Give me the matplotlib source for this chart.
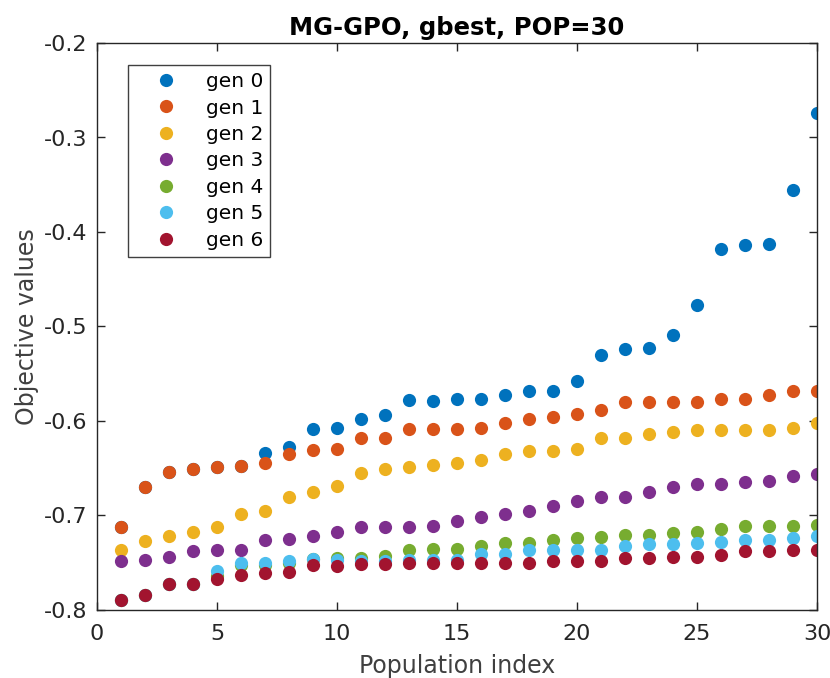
import numpy as np
import matplotlib
matplotlib.use("Agg")
import matplotlib.pyplot as plt

plt.rcParams['font.family'] = ['DejaVu Sans']

x = list(range(1, 31))

gen0 = [-0.712, -0.670, -0.654, -0.651, -0.649, -0.648, -0.634, -0.628, -0.608, -0.607,
        -0.598, -0.594, -0.578, -0.579, -0.577, -0.577, -0.572, -0.568, -0.568, -0.558,
        -0.530, -0.524, -0.523, -0.509, -0.477, -0.418, -0.414, -0.413, -0.356, -0.274]
gen1 = [-0.712, -0.670, -0.654, -0.651, -0.649, -0.648, -0.644, -0.635, -0.631, -0.630,
        -0.618, -0.618, -0.608, -0.608, -0.608, -0.607, -0.602, -0.598, -0.596, -0.593,
        -0.588, -0.580, -0.580, -0.580, -0.580, -0.577, -0.577, -0.572, -0.568, -0.568]
gen2 = [-0.737, -0.727, -0.722, -0.717, -0.712, -0.698, -0.695, -0.680, -0.675, -0.669,
        -0.655, -0.651, -0.649, -0.647, -0.644, -0.641, -0.635, -0.632, -0.632, -0.630,
        -0.618, -0.618, -0.614, -0.612, -0.609, -0.609, -0.609, -0.609, -0.607, -0.602]
gen3 = [-0.748, -0.747, -0.744, -0.738, -0.737, -0.737, -0.726, -0.725, -0.722, -0.717,
        -0.712, -0.712, -0.712, -0.711, -0.706, -0.702, -0.698, -0.695, -0.690, -0.685,
        -0.680, -0.680, -0.675, -0.670, -0.667, -0.667, -0.665, -0.663, -0.658, -0.656]
gen4 = [-0.789, -0.784, -0.772, -0.772, -0.764, -0.752, -0.752, -0.750, -0.746, -0.745,
        -0.745, -0.743, -0.737, -0.735, -0.735, -0.732, -0.729, -0.729, -0.726, -0.724,
        -0.723, -0.721, -0.721, -0.719, -0.717, -0.714, -0.711, -0.711, -0.711, -0.710]
gen5 = [-0.789, -0.784, -0.772, -0.772, -0.759, -0.750, -0.750, -0.748, -0.746, -0.747,
        -0.748, -0.748, -0.747, -0.747, -0.747, -0.741, -0.741, -0.737, -0.737, -0.737,
        -0.737, -0.732, -0.730, -0.730, -0.729, -0.728, -0.726, -0.726, -0.724, -0.722]
gen6 = [-0.789, -0.784, -0.772, -0.772, -0.767, -0.763, -0.761, -0.760, -0.752, -0.753,
        -0.751, -0.751, -0.750, -0.750, -0.750, -0.750, -0.750, -0.750, -0.748, -0.748,
        -0.748, -0.745, -0.745, -0.744, -0.744, -0.742, -0.738, -0.738, -0.737, -0.737]

series = [gen0, gen1, gen2, gen3, gen4, gen5, gen6]
labels = ["gen 0", "gen 1", "gen 2", "gen 3", "gen 4", "gen 5", "gen 6"]
colors = ["#0072BD", "#D95319", "#EDB120", "#7E2F8E", "#77AC30", "#4DBEEE", "#A2142F"]

xticks = [0, 5, 10, 15, 20, 25, 30]
yticks = [-0.8, -0.7, -0.6, -0.5, -0.4, -0.3, -0.2]

fig = plt.figure(figsize=(8.3, 6.78), dpi=100)
ax = fig.add_axes([97/830, 1 - 610/678, 720/830, 567/678])

for y, lab, c in zip(series, labels, colors):
    ax.plot(x, y, linestyle='none', marker='o', markersize=9.5,
            markerfacecolor=c, markeredgewidth=0, label=lab)

ax.set_xlim(0, 30)
ax.set_ylim(-0.8, -0.2)
ax.set_xticks(xticks)
ax.set_yticks(yticks)
ax.set_xticklabels([str(t) for t in xticks])
ax.set_yticklabels([f"{t:.1f}" for t in yticks])
ax.tick_params(direction='in', length=6, width=1, top=True, right=True,
               labelsize=16, colors='#262626')
ax.tick_params(axis='x', pad=10)
ax.tick_params(axis='y', pad=7)
for s in ax.spines.values():
    s.set_color('#262626')
    s.set_linewidth(1)

ax.set_title("MG-GPO, gbest, POP=30", fontsize=17.5, fontweight='bold', pad=6)
ax.set_xlabel("Population index", fontsize=17, color='#404040', labelpad=7)
ax.set_ylabel("Objective values", fontsize=17, color='#404040', labelpad=3)

leg = ax.legend(loc='upper left', bbox_to_anchor=(31/720, 545/567), fontsize=14.5,
                frameon=True, fancybox=False, edgecolor='#404040', framealpha=1,
                borderpad=0.35, labelspacing=0.37, handlelength=3.1,
                handletextpad=0.4, borderaxespad=0)
leg.get_frame().set_linewidth(1)

fig.savefig("out.png", dpi=100)
